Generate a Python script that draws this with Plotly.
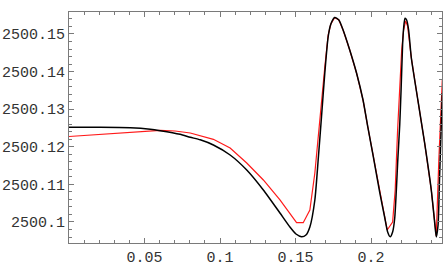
import plotly.graph_objects as go

# black curve
black_x = [0.0, 0.0208, 0.0406, 0.0538, 0.0604, 0.0736, 0.0803, 0.0869, 0.0956, 0.1067,
           0.1177, 0.1287, 0.1397, 0.1463, 0.1503, 0.1540, 0.1569, 0.1595, 0.1628, 0.1650,
           0.1672, 0.1694, 0.1716, 0.1734, 0.1760, 0.1787, 0.1815, 0.1859, 0.1904, 0.1947,
           0.1980, 0.2013, 0.2057, 0.2090, 0.2110, 0.2127, 0.2143, 0.2157, 0.2178, 0.2190,
           0.2199, 0.2209, 0.2216, 0.2225, 0.2236, 0.2249, 0.2267, 0.2310, 0.2355, 0.2399,
           0.2421, 0.2432, 0.2444, 0.2454, 0.2472]
black_y = [2500.12519, 2500.12519, 2500.12505, 2500.12465, 2500.12428, 2500.12332, 2500.12253,
           2500.12186, 2500.12048, 2500.11782, 2500.11383, 2500.10851, 2500.10239, 2500.09867,
           2500.09681, 2500.09609, 2500.09654, 2500.09867, 2500.10585, 2500.11649, 2500.12793,
           2500.13963, 2500.14920, 2500.15266, 2500.15439, 2500.15372, 2500.15106, 2500.14574,
           2500.13963, 2500.13245, 2500.12500, 2500.11782, 2500.10798, 2500.10133, 2500.09734,
           2500.09609, 2500.09734, 2500.10106, 2500.11702, 2500.12580, 2500.13511, 2500.14707,
           2500.15160, 2500.15418, 2500.15372, 2500.15106, 2500.14362, 2500.13245, 2500.12101,
           2500.10851, 2500.10000, 2500.09601, 2500.09920, 2500.11197, 2500.13431]

# red curve
red_x = [0.0, 0.0208, 0.0406, 0.0538, 0.0604, 0.0703, 0.0803, 0.0956, 0.1067, 0.1177,
         0.1287, 0.1397, 0.1463, 0.1507, 0.1551, 0.1595, 0.1628, 0.1661, 0.1694, 0.1716,
         0.1734, 0.1760, 0.1787, 0.1815, 0.1859, 0.1904, 0.1947, 0.1980, 0.2013, 0.2057,
         0.2090, 0.2107, 0.2143, 0.2160, 0.2176, 0.2190, 0.2203, 0.2216, 0.2229, 0.2242,
         0.2267, 0.2310, 0.2355, 0.2399, 0.2421, 0.2432, 0.2449, 0.2472]
red_y = [2500.12274, 2500.12332, 2500.12394, 2500.12428, 2500.12434, 2500.12420, 2500.12367,
         2500.12199, 2500.11968, 2500.11569, 2500.11117, 2500.10585, 2500.10239, 2500.09981,
         2500.09981, 2500.10319, 2500.11303, 2500.12793, 2500.14122, 2500.14973, 2500.15266,
         2500.15439, 2500.15372, 2500.15106, 2500.14574, 2500.13963, 2500.13245, 2500.12500,
         2500.11782, 2500.10798, 2500.10186, 2500.09787, 2500.10000, 2500.10851, 2500.12447,
         2500.13511, 2500.14574, 2500.15106, 2500.15346, 2500.15213, 2500.14362, 2500.13245,
         2500.12101, 2500.10851, 2500.09907, 2500.09628, 2500.11649, 2500.13777]

x_tick_vals = [0.05, 0.1, 0.15, 0.2]
x_tick_text = ["0.05", "0.1", "0.15", "0.2"]
y_tick_vals = [2500.1, 2500.11, 2500.12, 2500.13, 2500.14, 2500.15]
y_tick_text = ["2500.1", "2500.11", "2500.12", "2500.13", "2500.14", "2500.15"]

fig = go.Figure()
fig.add_trace(go.Scatter(x=red_x, y=red_y, mode="lines",
                         line=dict(color="#ff1a1a", width=1.2), showlegend=False))
fig.add_trace(go.Scatter(x=black_x, y=black_y, mode="lines",
                         line=dict(color="black", width=1.5, shape="spline", smoothing=0.6),
                         showlegend=False))

axis_common = dict(
    showgrid=False, zeroline=False, showline=True, linecolor="#7a7a7a", linewidth=1,
    mirror="allticks", ticks="inside", ticklen=5, tickcolor="#7a7a7a", tickwidth=1,
    automargin=False,
    tickfont=dict(family="Liberation Mono", size=15, color="#333333"),
)
fig.update_xaxes(range=[0, 0.247], tickvals=x_tick_vals, ticktext=x_tick_text,
                 minor=dict(dtick=0.01, tick0=0, ticks="inside", ticklen=3, tickcolor="#7a7a7a"),
                 **axis_common)
fig.update_yaxes(range=[2500.09441, 2500.15585], tickvals=y_tick_vals, ticktext=y_tick_text,
                 minor=dict(dtick=0.002, tick0=2500.1, ticks="inside", ticklen=3, tickcolor="#7a7a7a"),
                 **axis_common)
fig.update_layout(width=443, height=274, margin=dict(l=69, r=1, t=12, b=31, autoexpand=False),
                  plot_bgcolor="white", paper_bgcolor="white")
fig.write_html("out.html", config={"displayModeBar": False},
               post_script="document.body.style.margin='0';document.body.style.padding='0';")
